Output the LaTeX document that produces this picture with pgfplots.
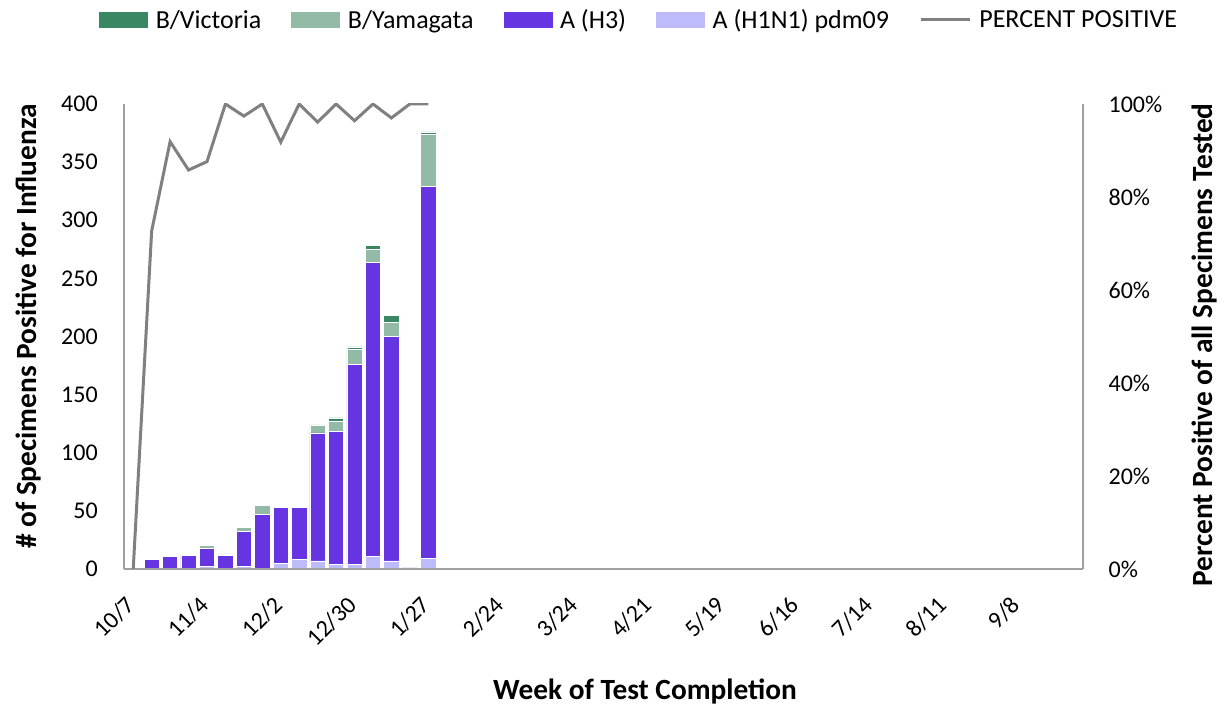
\documentclass[border=0pt]{standalone}
\usepackage{fontspec}
\setmainfont{Carlito}
\usepackage{pgfplots}
\usepackage{pgfplotstable}
\pgfplotsset{compat=1.18}
\definecolor{vic}{RGB}{58,135,99}
\definecolor{yam}{RGB}{146,186,166}
\definecolor{hthree}{RGB}{103,52,226}
\definecolor{hone}{RGB}{190,187,250}
\definecolor{linegray}{RGB}{128,128,128}
\definecolor{axisgray}{RGB}{160,160,160}
\pgfplotstableread{
x h1 h3 yam vic
0 0 0 0 0
1 0 8 0 0
2 0 11 0 0
3 0 12 0 0
4 2 16 2 0
5 0 12 1 0
6 2 30 4 0
7 0 47 8 0
8 5 48 1 0
9 8 45 1 0
10 7 110 7 0
11 4 114 9 3
12 4 172 13 2
13 11 253 11 3
14 7 193 12 6
15 0 1 0 0
16 9 320 45 2
}\flu
\pgfplotstableread{
x pct
0 0
1 72.7
2 91.9
3 85.8
4 87.6
5 100
6 97.4
7 100
8 91.8
9 100
10 96.1
11 100
12 96.4
13 100
14 97.0
15 100
16 100
}\pct
\begin{document}
\begin{tikzpicture}
\path[use as bounding box] (-93pt,-105pt) rectangle (827.25pt,426.75pt);
\begin{axis}[
  at={(0,0)}, anchor=south west,
  scale only axis, width=719.25pt, height=348.75pt,
  xmin=-0.5, xmax=51.5, ymin=0, ymax=400,
  axis x line*=bottom, axis y line*=left,
  axis line style={draw=axisgray, line width=1.1pt, -},
  axis on top,
  major tick length=0pt,
  ytick={0,50,100,150,200,250,300,350,400},
  yticklabels={0,50,100,150,200,250,300,350,400},
  xtick={0,4,8,12,16,20,24,28,32,36,40,44,48},
  xticklabels={10/7,11/4,12/2,12/30,1/27,2/24,3/24,4/21,5/19,6/16,7/14,8/11,9/8},
  yticklabel style={font=\fontsize{18}{20}\selectfont, inner sep=0pt, anchor=east, xshift=-19.5pt},
  xticklabel style={font=\fontsize{18}{20}\selectfont, inner sep=0pt, rotate=45, anchor=north east, xshift=-18pt, yshift=-8.8pt},
  ylabel={\bfseries \# of Specimens Positive for Influenza},
  ylabel style={font=\fontsize{22}{24}\selectfont, at={(axis description cs:-0.1001,0.5215)}, anchor=center},
  xlabel={\bfseries Week of Test Completion},
  xlabel style={font=\fontsize{22}{24}\selectfont, at={(axis description cs:0.5433,-0.2645)}, anchor=center},
  ybar stacked, bar width=0.83,
  legend columns=5,
  legend style={draw=none, fill=none, font=\fontsize{19.5}{21}\selectfont,
    at={(axis description cs:0.5,1)}, anchor=center, xshift=27pt, yshift=63pt,
    /tikz/every even column/.append style={column sep=20.5pt},
    /tikz/every odd column/.append style={column sep=4pt}},
  legend cell align=left,
]
\addplot[fill=hone, draw=white, line width=0.5pt, forget plot] table[x=x,y=h1]{\flu};
\addplot[fill=hthree, draw=white, line width=0.5pt, forget plot] table[x=x,y=h3]{\flu};
\addplot[fill=yam, draw=white, line width=0.5pt, forget plot] table[x=x,y=yam]{\flu};
\addplot[fill=vic, draw=white, line width=0.5pt, forget plot] table[x=x,y=vic]{\flu};
\addlegendimage{legend image code/.code={\fill[vic] (0pt,-5.5pt) rectangle (36pt,5.5pt);}}
\addlegendentry{B/Victoria}
\addlegendimage{legend image code/.code={\fill[yam] (0pt,-5.5pt) rectangle (36pt,5.5pt);}}
\addlegendentry{B/Yamagata}
\addlegendimage{legend image code/.code={\fill[hthree] (0pt,-5.5pt) rectangle (36pt,5.5pt);}}
\addlegendentry{A (H3)}
\addlegendimage{legend image code/.code={\fill[hone] (0pt,-5.5pt) rectangle (36pt,5.5pt);}}
\addlegendentry{A (H1N1) pdm09}
\addlegendimage{legend image code/.code={\draw[linegray, line width=2.25pt] (0pt,0pt) -- (37pt,0pt);}}
\addlegendentry{PERCENT POSITIVE}
\end{axis}
\begin{axis}[
  at={(0,0)}, anchor=south west,
  scale only axis, width=719.25pt, height=348.75pt,
  xmin=-0.5, xmax=51.5, ymin=0, ymax=100,
  axis x line=none, axis y line*=right,
  axis line style={draw=axisgray, line width=1.1pt, -},
  major tick length=0pt,
  ytick={0,20,40,60,80,100},
  yticklabels={0\%,20\%,40\%,60\%,80\%,100\%},
  yticklabel style={font=\fontsize{18}{20}\selectfont, inner sep=0pt, anchor=west, xshift=19pt},
  ylabel={\bfseries Percent Positive of all Specimens Tested},
  ylabel style={font=\fontsize{22}{24}\selectfont, at={(axis description cs:1.1272,0.4817)}, anchor=center},
]
\addplot[linegray, line width=2.25pt, mark=none] table[x=x,y=pct]{\pct};
\end{axis}
\end{tikzpicture}
\end{document}
